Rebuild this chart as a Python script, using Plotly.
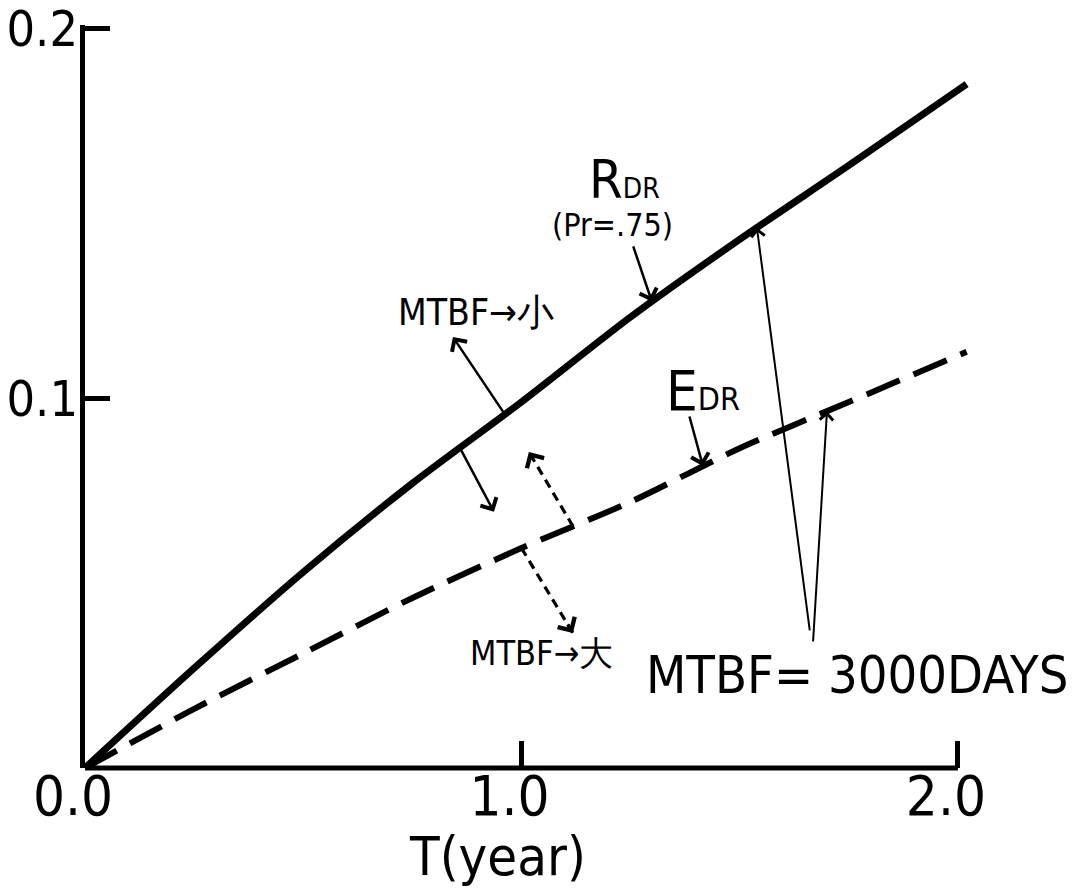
import numpy as np
import plotly.graph_objects as go

# Time in years and the two decision-rate curves
T = [0.0, 0.25, 0.5, 0.75, 1.0, 1.25, 1.5, 1.75, 2.02]
R_DR = [0.0, 0.027, 0.053, 0.077, 0.099, 0.122, 0.143, 0.163, 0.185]
E_DR = [0.0, 0.016, 0.031, 0.046, 0.0595, 0.072, 0.0865, 0.099, 0.1126]

x_ticks = [0.0, 1.0, 2.0]
x_tick_text = ["0.0", "1.0", "2.0"]
y_ticks = [0.1, 0.2]
y_tick_text = ["0.1", "0.2"]
x_title = "T(year)"

FONT = "DejaVu Sans Condensed, DejaVu Sans, sans-serif"
INK = "black"


def on_r(t):
    return float(np.interp(t, T, R_DR))


def on_e(t):
    return float(np.interp(t, T, E_DR))


fig = go.Figure()
fig.add_trace(go.Scatter(x=T, y=R_DR, mode="lines", name="R_DR",
                         line=dict(color=INK, width=7, shape="spline", smoothing=0.8),
                         showlegend=False))
fig.add_trace(go.Scatter(x=T, y=E_DR, mode="lines", name="E_DR",
                         line=dict(color=INK, width=6, dash="36px,15px",
                                   shape="spline", smoothing=0.8),
                         showlegend=False))

annotations = []


def arrow(x_tip, y_tip, x_tail, y_tail, width=2.5, head=4, size=1.4):
    annotations.append(dict(x=x_tip, y=y_tip, ax=x_tail, ay=y_tail,
                            xref="x", yref="y", axref="x", ayref="y",
                            text="", showarrow=True, arrowhead=head,
                            arrowsize=size, arrowwidth=width, arrowcolor=INK,
                            standoff=0, startstandoff=0))


shapes = []


def dashed_arrow(x_tip, y_tip, x_tail, y_tail):
    shapes.append(dict(type="line", xref="x", yref="y",
                       x0=x_tail, y0=y_tail, x1=x_tip, y1=y_tip,
                       line=dict(color=INK, width=3.2, dash="9px,6px")))
    f = 0.12
    arrow(x_tip, y_tip, x_tip + f * (x_tail - x_tip), y_tip + f * (y_tail - y_tip),
          width=3.2, head=4, size=1.2)


# pointer from the R_DR label to the curve
arrow(1.299, on_r(1.299), 1.255, 0.1415)
# MTBF small -> curve moves up
arrow(0.843, 0.1166, 0.962, on_r(0.962))
arrow(0.937, 0.0693, 0.859, on_r(0.859))
# MTBF large -> dashed curve shifts
dashed_arrow(1.017, 0.0855, 1.118, on_e(1.118))
dashed_arrow(1.118, 0.0365, 1.0, on_e(1.0))
# pointer from the E_DR label to the dashed curve
arrow(1.416, on_e(1.416), 1.384, 0.0955)
# MTBF = 3000 days markers
arrow(1.5395, on_r(1.5395), 1.661, 0.0368, width=2, head=4, size=1.3)
arrow(1.700, on_e(1.700), 1.668, 0.0338, width=2, head=4, size=1.3)


def label(x, y, text, size):
    annotations.append(dict(x=x, y=y, xref="x", yref="y", text=text,
                            showarrow=False, xanchor="center", yanchor="middle",
                            font=dict(family=FONT, size=size, color=INK)))


label(1.237, 0.1592, "R<span style='font-size:28px'>DR</span>", 54)
label(1.2096, 0.1468, "(Pr=.75)", 32)
label(0.896, 0.1231, "MTBF→小", 37)
label(1.416, 0.1022, "E<span style='font-size:32px'>DR</span>", 56)
label(1.045, 0.0311, "MTBF→大", 34)
label(1.769, 0.0252, "MTBF= 3000DAYS", 52)

# x-axis title, centred a little left of the plot middle
annotations.append(dict(x=0.944, y=0, xref="x", yref="paper", yshift=-88,
                        text=x_title, showarrow=False, xanchor="center",
                        yanchor="middle",
                        font=dict(family=FONT, size=54, color=INK)))

# horizontal axis line ending at the 2.0 tick
shapes.append(dict(type="line", xref="x", yref="paper", x0=0, x1=2.0, y0=0, y1=0,
                   line=dict(color=INK, width=5)))

fig.update_layout(
    width=1078, height=888,
    margin=dict(l=85, r=107, t=25, b=120),
    paper_bgcolor="white", plot_bgcolor="white",
    font=dict(family=FONT, color=INK),
    annotations=annotations, shapes=shapes,
    xaxis=dict(range=[0, 2.03], tickvals=x_ticks, ticktext=x_tick_text,
               ticks="inside", ticklen=27, tickwidth=5, tickcolor=INK,
               showgrid=False, zeroline=False, showline=False, automargin=False,
               ticklabelshift=-12, ticklabelstandoff=-10,
               ticklabeloverflow="allow",
               tickfont=dict(family=FONT, size=56, color=INK)),
    yaxis=dict(range=[0, 0.201], tickvals=y_ticks, ticktext=y_tick_text,
               ticks="inside", ticklen=25, tickwidth=5, tickcolor=INK,
               showgrid=False, zeroline=False, showline=True, linewidth=5,
               linecolor=INK, ticklabelstandoff=-8, automargin=False,
               ticklabeloverflow="allow",
               tickfont=dict(family=FONT, size=50, color=INK)),
)

fig.write_html("out.html")
